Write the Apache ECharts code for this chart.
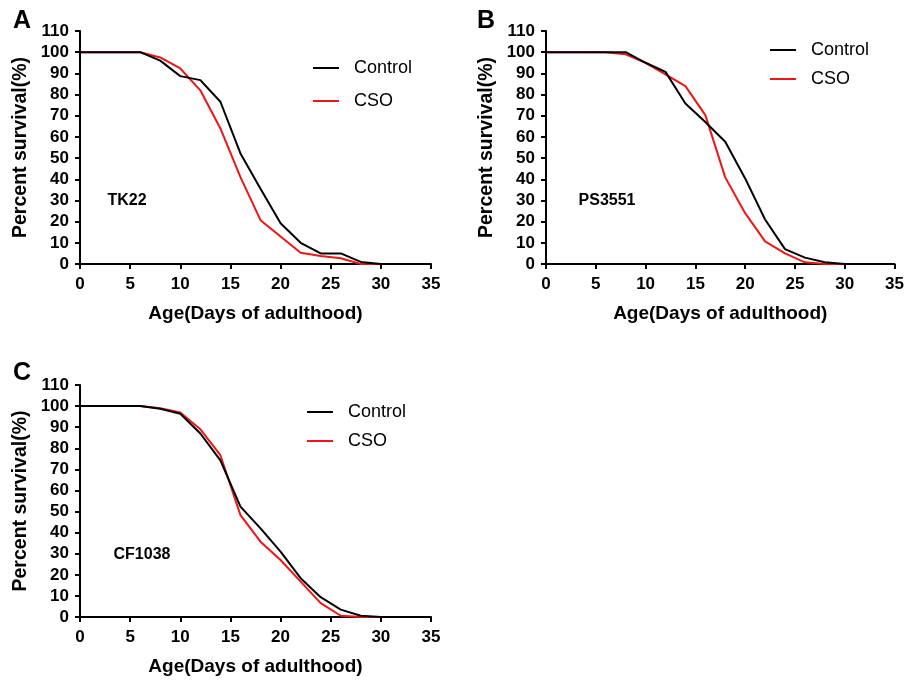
<!DOCTYPE html>
<html><head><meta charset="utf-8">
<script src="https://cdn.jsdelivr.net/npm/echarts@6/dist/echarts.min.js"></script>
<style>html,body{margin:0;padding:0;background:#fff}#c{width:907px;height:680px}</style>
</head><body><div id="c"></div>
<script>
const days = [0, 6, 8, 10, 12, 14, 16, 18, 20, 22, 24, 26, 28, 30];
const xTicks = [0, 5, 10, 15, 20, 25, 30, 35];
const yTicks = [0, 10, 20, 30, 40, 50, 60, 70, 80, 90, 100, 110];
const panelLetters = ['A', 'B', 'C'];
const strains = ['TK22', 'PS3551', 'CF1038'];
const seriesNames = ['Control', 'CSO'];
// Panel A (TK22)
const tk22Control = [100, 100, 96, 88.7, 86.8, 76.6, 52.2, 35.5, 19.2, 10, 5, 5, 1, 0];
const tk22CSO     = [100, 100, 97.5, 92.3, 82, 64, 41, 20.7, 13, 5.3, 3.8, 2.7, 0, 0];
// Panel B (PS3551)
const ps3551Control = [100, 100, 100, 95, 90.7, 75.8, 67, 57.7, 40.4, 21, 7, 3, 0.8, 0];
const ps3551CSO     = [100, 100, 99, 95, 89.5, 84, 70.3, 40.9, 24, 10.7, 5, 0.8, 0, 0];
// Panel C (CF1038)
const cf1038Control = [100, 100, 98.7, 96.4, 87, 74.3, 52.3, 42, 31, 18.4, 9.4, 3.5, 0.6, 0];
const cf1038CSO     = [100, 100, 99, 97, 89, 76.7, 48.3, 35.7, 27, 16.8, 6.6, 0.6, 0, 0];

const panelData = [[tk22Control, tk22CSO], [ps3551Control, ps3551CSO], [cf1038Control, cf1038CSO]];
const colors = ['#000000', '#f01515'];
const FONT = 'Liberation Sans, Arial, sans-serif';

const grids = [
  {left: 80, top: 31, width: 351, height: 233},
  {left: 546, top: 31, width: 351, height: 233},
  {left: 80, top: 385, width: 351, height: 232}
];
const legendPos = [
  {left: 308, top: 53, itemGap: 13},
  {left: 765, top: 35, itemGap: 9},
  {left: 302, top: 397, itemGap: 9}
];
const letterPos = [{left: 13, top: 9}, {left: 477, top: 9}, {left: 13, top: 361}];
const strainPos = [{x: 127, y: 201}, {x: 607, y: 201}, {x: 142, y: 555}];

const axisLine = {show: true, lineStyle: {color: '#000', width: 2}};
const axisTick = {show: true, length: 5, lineStyle: {color: '#000', width: 2}};

const option = {
  animation: false,
  backgroundColor: '#fff',
  grid: grids,
  xAxis: grids.map((g, i) => ({
    type: 'value', gridIndex: i, min: xTicks[0], max: xTicks[xTicks.length - 1], interval: 5,
    axisLine, axisTick, splitLine: {show: false},
    axisLabel: {color: '#000', fontFamily: FONT, fontWeight: 'bold', fontSize: 17, margin: 12},
    name: 'Age(Days of adulthood)', nameLocation: 'middle', nameGap: 40,
    nameTextStyle: {color: '#000', fontFamily: FONT, fontWeight: 'bold', fontSize: 19}
  })),
  yAxis: grids.map((g, i) => ({
    type: 'value', gridIndex: i, min: yTicks[0], max: yTicks[yTicks.length - 1], interval: 10,
    axisLine, axisTick, splitLine: {show: false},
    axisLabel: {color: '#000', fontFamily: FONT, fontWeight: 'bold', fontSize: 17, margin: 11},
    name: 'Percent survival(%)', nameLocation: 'middle', nameGap: 49,
    nameTextStyle: {color: '#000', fontFamily: FONT, fontWeight: 'bold', fontSize: 19.5}
  })),
  legend: legendPos.map(p => ({
    left: p.left, top: p.top, orient: 'vertical', itemGap: p.itemGap,
    itemWidth: 26, itemHeight: 2, icon: 'rect', data: seriesNames,
    textStyle: {color: '#000', fontFamily: FONT, fontSize: 18, lineHeight: 20, padding: [0, 0, 0, 10]}
  })),
  title: panelLetters.map((l, i) => ({
    text: l, left: letterPos[i].left, top: letterPos[i].top, padding: 0,
    textStyle: {color: '#000', fontFamily: FONT, fontWeight: 'bold', fontSize: 25}
  })),
  graphic: strains.map((s, i) => ({
    type: 'text', x: strainPos[i].x, y: strainPos[i].y,
    style: {text: s, fill: '#000', font: 'bold 16px ' + FONT, align: 'center', verticalAlign: 'middle'}
  })),
  series: []
};
panelData.forEach((pair, i) => {
  pair.forEach((vals, j) => {
    option.series.push({
      type: 'line', name: seriesNames[j], xAxisIndex: i, yAxisIndex: i,
      data: days.map((d, k) => [d, vals[k]]),
      symbol: 'none', showSymbol: false,
      lineStyle: {color: colors[j], width: 2}, itemStyle: {color: colors[j]},
      z: j === 0 ? 3 : 2
    });
  });
});
const chart = echarts.init(document.getElementById('c'), null, {renderer: 'canvas'});
chart.setOption(option);
</script></body></html>
